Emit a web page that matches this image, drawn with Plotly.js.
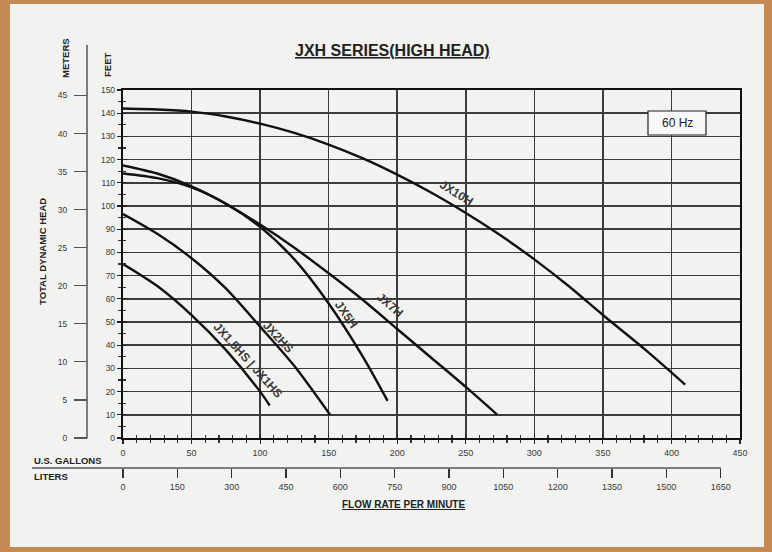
<!DOCTYPE html>
<html><head><meta charset="utf-8">
<script src="https://cdn.plot.ly/plotly-3.0.1.min.js"></script>
<style>html,body{margin:0;padding:0;background:#c58a52;}#chart{width:772px;height:552px;}</style>
</head><body><div id="chart"></div>
<script>
// ---- data (U.S. gallons per minute vs. feet of head) ----
const jx10hGpm = [0, 25, 50, 75, 100, 125, 150, 175, 200, 225, 250, 275, 300, 325, 350, 380, 410];
const jx10hFt  = [142, 141.6, 140.7, 138.6, 135.5, 131.5, 126.5, 120.5, 113.5, 105.7, 97, 87.5, 77, 65.5, 53, 38.5, 23];
const jx7hGpm  = [0, 25, 50, 75, 100, 125, 150, 175, 200, 225, 250, 273];
const jx7hFt   = [117.5, 114, 108.5, 101, 92, 82, 71, 59.5, 47, 34.5, 22, 10];
const jx5hGpm  = [0, 25, 50, 75, 100, 125, 150, 175, 193];
const jx5hFt   = [114, 112, 108, 101, 91, 77, 58, 35, 16];
const jx2hsGpm = [0, 25, 50, 75, 100, 125, 151];
const jx2hsFt  = [96.5, 88, 77.5, 64.5, 48, 31, 10];
const jx1hsGpm = [0, 25, 50, 75, 100, 107];
const jx1hsFt  = [75, 65.5, 53, 38, 20, 14];
const curveNames = ['JX10H', 'JX7H', 'JX5H', 'JX2HS', 'JX1.5HS | JX1HS'];
const gpmTicks = [0, 50, 100, 150, 200, 250, 300, 350, 400, 450];
const feetTicks = [0, 10, 20, 30, 40, 50, 60, 70, 80, 90, 100, 110, 120, 130, 140, 150];
const meterTicks = [0, 5, 10, 15, 20, 25, 30, 35, 40, 45];
const literTicks = [0, 150, 300, 450, 600, 750, 900, 1050, 1200, 1350, 1500, 1650];

const FT_PER_M = 3.28084, L_PER_GAL = 3.78541;
const GMAX = 450, FMAX = 150;

// pixel -> paper helpers (paper area: x 60..740, y 90..492)
const L = 60, R = 740, T = 90, B = 492;
const px = x => (x - L) / (R - L);
const py = y => (B - y) / (B - T);

const lineStyle = {color: '#111', width: 2.4, shape: 'spline', smoothing: 0.8};
const series = [
  [jx10hGpm, jx10hFt], [jx7hGpm, jx7hFt], [jx5hGpm, jx5hFt], [jx2hsGpm, jx2hsFt], [jx1hsGpm, jx1hsFt]
];
const traces = series.map((s, i) => ({
  x: s[0], y: s[1], type: 'scatter', mode: 'lines', name: curveNames[i],
  line: lineStyle, hoverinfo: 'skip', xaxis: 'x', yaxis: 'y'
}));
traces.push({x: [0], y: [0], xaxis: 'x2', yaxis: 'y2', mode: 'markers', marker: {opacity: 0}, hoverinfo: 'skip', showlegend: false});
traces.push({x: [0], y: [0], xaxis: 'x3', yaxis: 'y3', mode: 'markers', marker: {opacity: 0}, hoverinfo: 'skip', showlegend: false});

const FAM = 'Arial, Liberation Sans, sans-serif';
const xTickFont = {family: FAM, size: 9, color: '#3a3a3a'};
const yTickFont = {family: FAM, size: 8.5, color: '#3a3a3a'};
const labFont = {family: FAM, size: 9.5, color: '#222'};
const xDom = [px(123), 1], yDom = [py(438), 1];

function pAnn(text, x, y, font, extra) {
  return Object.assign({text: text, xref: 'paper', yref: 'paper', x: px(x), y: py(y),
    xanchor: 'center', yanchor: 'middle', showarrow: false, font: font}, extra || {});
}
function cAnn(i, x, y, ang) {
  return {text: '<b>' + curveNames[i] + '</b>', xref: 'x', yref: 'y', x: x, y: y, textangle: ang,
    xanchor: 'center', yanchor: 'middle', showarrow: false, font: {family: FAM, size: 12, color: '#3a3a3a'}};
}

const layout = {
  width: 772, height: 552,
  margin: {l: L, r: 772 - R, t: T, b: 552 - B, pad: 0},
  paper_bgcolor: '#c58a52', plot_bgcolor: '#f2f2f0',
  showlegend: false,
  xaxis: {
    domain: xDom, range: [0, GMAX], tickvals: gpmTicks, anchor: 'y',
    showgrid: true, gridcolor: '#3c3c3c', gridwidth: 1.5,
    showline: true, linecolor: '#111', linewidth: 2.2, mirror: true,
    ticks: 'outside', ticklen: 4, tickcolor: '#222', tickwidth: 1.2,
    minor: {dtick: 10, ticks: 'outside', ticklen: 3, tickcolor: '#333', showgrid: false},
    tickfont: xTickFont, ticklabelstandoff: 1, zeroline: false, fixedrange: true
  },
  yaxis: {
    domain: yDom, range: [0, FMAX], tickvals: feetTicks, anchor: 'x',
    showgrid: true, gridcolor: '#3c3c3c', gridwidth: 1.5,
    showline: true, linecolor: '#111', linewidth: 2.2, mirror: true,
    ticks: 'outside', ticklen: 4, tickcolor: '#222', tickwidth: 1.2,
    minor: {dtick: 5, ticks: 'outside', ticklen: 3, tickcolor: '#333', showgrid: false},
    tickfont: yTickFont, zeroline: false, fixedrange: true
  },
  xaxis3: {
    overlaying: 'x', anchor: 'y3', range: [0, GMAX], tickvals: gpmTicks, showticklabels: false,
    showgrid: false, zeroline: false, showline: false,
    ticks: 'inside', ticklen: 4, tickcolor: '#222', tickwidth: 1.2,
    minor: {dtick: 10, ticks: 'inside', ticklen: 3, tickcolor: '#333'}, fixedrange: true
  },
  yaxis3: {
    overlaying: 'y', anchor: 'x3', range: [0, FMAX], tickvals: feetTicks, showticklabels: false,
    showgrid: false, zeroline: false, showline: false,
    ticks: 'inside', ticklen: 4, tickcolor: '#222', tickwidth: 1.2,
    minor: {dtick: 5, ticks: 'inside', ticklen: 3, tickcolor: '#333'}, fixedrange: true
  },
  xaxis2: {
    overlaying: 'x', anchor: 'free', position: py(468), range: [0, GMAX * L_PER_GAL],
    tickvals: literTicks, showgrid: false, zeroline: false, showline: false,
    ticks: 'outside', ticklen: 9, tickcolor: '#333', tickwidth: 1.2,
    tickfont: xTickFont, ticklabelstandoff: 1, fixedrange: true
  },
  yaxis2: {
    overlaying: 'y', anchor: 'free', position: px(87), side: 'left', range: [0, FMAX / FT_PER_M],
    tickvals: meterTicks, showgrid: false, zeroline: false, showline: false,
    ticks: 'outside', ticklen: 13, tickcolor: '#555', tickwidth: 1.2,
    tickfont: yTickFont, ticklabelstandoff: 5, fixedrange: true
  },
  shapes: [
    {type: 'rect', xref: 'paper', yref: 'paper', x0: px(10), x1: px(764), y0: py(547), y1: py(4),
     fillcolor: '#f2f2f0', line: {width: 0}, layer: 'below'},
    {type: 'line', xref: 'paper', yref: 'paper', x0: px(87), x1: px(87), y0: py(438.5), y1: py(45),
     line: {color: '#555', width: 1.5}},
    {type: 'line', xref: 'paper', yref: 'paper', x0: px(32), x1: px(721), y0: py(468), y1: py(468),
     line: {color: '#555', width: 1.5}},
    {type: 'rect', xref: 'paper', yref: 'paper', x0: px(648), x1: px(706), y0: py(135), y1: py(111),
     fillcolor: '#f8f8f6', line: {color: '#222', width: 1.2}}
  ],
  annotations: [
    pAnn('<b><u>JXH SERIES(HIGH HEAD)</u></b>', 392, 50, {family: FAM, size: 16, color: '#222'}),
    pAnn('<b>METERS</b>', 66, 58, labFont, {textangle: -90}),
    pAnn('<b>FEET</b>', 107, 65, labFont, {textangle: -90}),
    pAnn('<b>TOTAL DYNAMIC HEAD</b>', 42, 252, labFont, {textangle: -90}),
    pAnn('<b>U.S. GALLONS</b>', 32, 460, labFont, {xanchor: 'left'}),
    pAnn('<b>LITERS</b>', 32, 476, labFont, {xanchor: 'left'}),
    pAnn('<b><u>FLOW RATE PER MINUTE</u></b>', 403, 505, {family: FAM, size: 10, color: '#222'}),
    pAnn('60 Hz', 677, 123, {family: FAM, size: 12, color: '#222'}),
    cAnn(0, 243, 105.6, 32),
    cAnn(1, 194.6, 57.3, 40),
    cAnn(2, 163, 53, 55),
    cAnn(3, 113, 43.5, 47),
    cAnn(4, 91, 33.6, 48)
  ]
};

Plotly.newPlot('chart', traces, layout, {displayModeBar: false, staticPlot: true});
</script>
</body></html>
